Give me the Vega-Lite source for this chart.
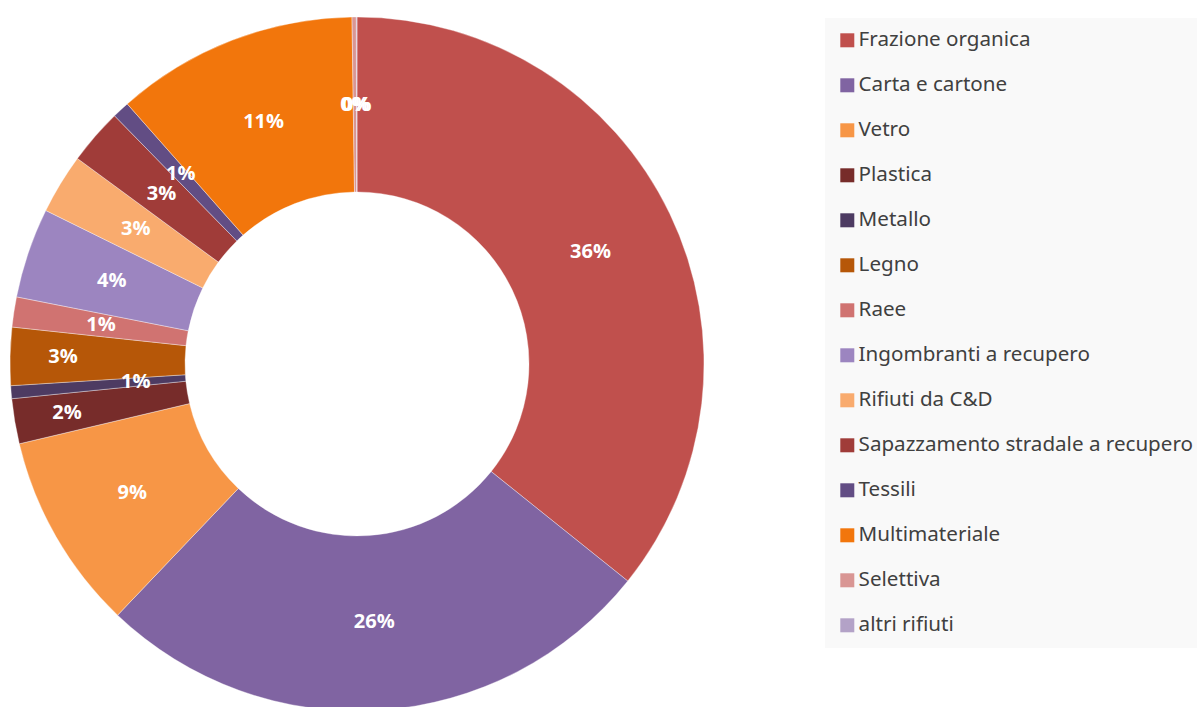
{
  "$schema": "https://vega.github.io/schema/vega-lite/v6.json",
  "width": 714,
  "height": 728,
  "autosize": {"type": "none"},
  "padding": {"left": 0, "top": 0, "right": 483, "bottom": 0},
  "background": "#ffffff",
  "data": {
    "values": [
      {"category": "Frazione organica", "share": 0.358, "ord": 1},
      {"category": "Carta e cartone", "share": 0.264, "ord": 2},
      {"category": "Vetro", "share": 0.092, "ord": 3},
      {"category": "Plastica", "share": 0.021, "ord": 4},
      {"category": "Metallo", "share": 0.006, "ord": 5},
      {"category": "Legno", "share": 0.027, "ord": 6},
      {"category": "Raee", "share": 0.014, "ord": 7},
      {"category": "Ingombranti a recupero", "share": 0.042, "ord": 8},
      {"category": "Rifiuti da C&D", "share": 0.028, "ord": 9},
      {"category": "Sapazzamento stradale a recupero", "share": 0.026, "ord": 10},
      {"category": "Tessili", "share": 0.008, "ord": 11},
      {"category": "Multimateriale", "share": 0.113, "ord": 12},
      {"category": "Selettiva", "share": 0.002, "ord": 13},
      {"category": "altri rifiuti", "share": 0.0003, "ord": 14}
    ]
  },
  "encoding": {
    "theta": {"field": "share", "type": "quantitative", "stack": true},
    "order": {"field": "ord", "type": "quantitative", "sort": "ascending"}
  },
  "layer": [
    {
      "mark": {"type": "arc", "innerRadius": 172, "outerRadius": 347, "stroke": "#ffffff", "strokeWidth": 0.6, "strokeOpacity": 0.6},
      "encoding": {
        "color": {
          "field": "category",
          "type": "nominal",
          "scale": {
            "domain": ["Frazione organica", "Carta e cartone", "Vetro", "Plastica", "Metallo", "Legno", "Raee", "Ingombranti a recupero", "Rifiuti da C&D", "Sapazzamento stradale a recupero", "Tessili", "Multimateriale", "Selettiva", "altri rifiuti"],
            "range": ["#C0504D", "#8064A2", "#F79646", "#772C2A", "#4D3B62", "#B65708", "#D07371", "#9C85C0", "#F9AB6E", "#A03C39", "#624D84", "#F2760C", "#D99694", "#B3A2C7"]
          },
          "legend": {
            "title": null,
            "orient": "none",
            "legendX": 825,
            "legendY": 18,
            "fillColor": "#f9f9f9",
            "padding": 12,
            "rowPadding": 24,
            "labelFontSize": 20.6,
            "labelFont": "Noto Sans",
            "labelColor": "#404040",
            "labelLimit": 400,
            "labelOffset": 1,
            "symbolType": "square",
            "symbolSize": 196,
            "symbolStrokeWidth": 0,
            "symbolOpacity": 1
          }
        }
      }
    },
    {
      "mark": {"type": "text", "radius": 259, "font": "Open Sans", "fontWeight": "bold", "fontSize": 20, "color": "#ffffff", "baseline": "middle", "align": "center"},
      "encoding": {
        "detail": {"field": "category", "type": "nominal"},
        "text": {
          "condition": {"test": "datum.category !== 'Metallo' && datum.category !== 'Plastica' && datum.category !== 'Legno'", "field": "share", "type": "quantitative", "format": ".0%"},
          "value": ""
        }
      }
    },
    {
      "mark": {"type": "text", "radius": 294, "font": "Open Sans", "fontWeight": "bold", "fontSize": 20, "color": "#ffffff", "baseline": "middle", "align": "center"},
      "encoding": {
        "detail": {"field": "category", "type": "nominal"},
        "text": {
          "condition": {"test": "datum.category === 'Plastica' || datum.category === 'Legno'", "field": "share", "type": "quantitative", "format": ".0%"},
          "value": ""
        }
      }
    },
    {
      "mark": {"type": "text", "radius": 222, "font": "Open Sans", "fontWeight": "bold", "fontSize": 20, "color": "#ffffff", "baseline": "middle", "align": "center"},
      "encoding": {
        "detail": {"field": "category", "type": "nominal"},
        "text": {
          "condition": {"test": "datum.category === 'Metallo'", "field": "share", "type": "quantitative", "format": ".0%"},
          "value": ""
        }
      }
    }
  ]
}
